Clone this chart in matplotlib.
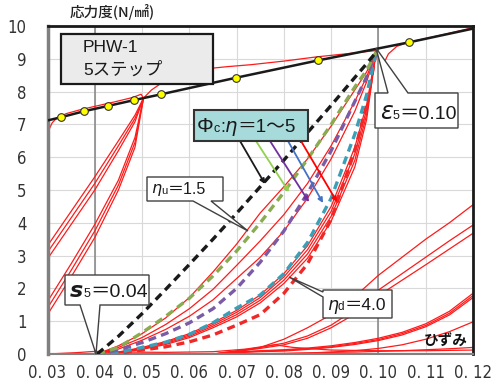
import matplotlib
matplotlib.use('Agg')
from matplotlib import pyplot as plt
from matplotlib import font_manager
from matplotlib.font_manager import FontProperties
from matplotlib.patches import Polygon, Rectangle
from matplotlib.transforms import Affine2D
from matplotlib.offsetbox import TextArea, HPacker, AnnotationBbox

# ---- data -------------------------------------------------------------
# skeleton line (black) and measured points on it
env_x = [0.03, 0.0329, 0.0377, 0.0427, 0.0483, 0.0541, 0.0698, 0.0872, 0.1064, 0.12]
env_y = [7.12, 7.22, 7.40, 7.56, 7.74, 7.92, 8.42, 8.95, 9.50, 9.92]
pts_x = [0.0329, 0.0377, 0.0427, 0.0483, 0.0541, 0.0698, 0.0872, 0.1064]
pts_y = [7.22, 7.40, 7.56, 7.74, 7.92, 8.42, 8.95, 9.50]

# step 5 : s5 = 0.04 -> eps5 = 0.10
x5 = [0.0405, 0.045, 0.05, 0.055, 0.06, 0.065, 0.07, 0.075, 0.08, 0.085, 0.09, 0.095, 0.0975, 0.0995]
eta1 = [0, 0.54, 1.23, 1.97, 2.73, 3.50, 4.29, 5.10, 5.91, 6.75, 7.58, 8.43, 8.85, 9.2]
eta15 = [0, 0.20, 0.65, 1.15, 1.70, 2.38, 3.14, 4.00, 4.93, 5.94, 7.00, 8.14, 8.65, 9.2]
eta2 = [0, 0.12, 0.35, 0.62, 0.95, 1.38, 2.00, 2.80, 3.75, 4.90, 6.20, 7.70, 8.45, 9.2]
eta3 = [0, 0.05, 0.20, 0.36, 0.60, 0.95, 1.40, 1.80, 2.45, 3.40, 4.75, 6.70, 7.90, 9.2]
eta5 = [0, 0.03, 0.12, 0.22, 0.37, 0.58, 0.88, 1.20, 1.85, 2.75, 4.10, 6.20, 7.60, 9.2]

test5 = [
    [0, 0.25, 0.62, 1.10, 1.72, 2.50, 3.35, 4.30, 5.10, 5.95, 6.95, 8.05, 8.60, 9.2],
    [0, 0.20, 0.50, 0.90, 1.38, 1.97, 2.70, 3.45, 4.25, 5.20, 6.35, 7.70, 8.45, 9.2],
    [0, 0.15, 0.42, 0.75, 1.15, 1.65, 2.30, 2.95, 3.75, 4.75, 5.95, 7.40, 8.30, 9.2],
    [0, 0.06, 0.20, 0.38, 0.62, 0.95, 1.33, 1.80, 2.45, 3.30, 4.50, 6.30, 7.60, 9.2],
    [0, 0.05, 0.18, 0.35, 0.58, 0.90, 1.27, 1.72, 2.35, 3.18, 4.35, 6.10, 7.45, 9.2],
    [0, 0.04, 0.16, 0.32, 0.54, 0.85, 1.20, 1.64, 2.25, 3.05, 4.20, 5.90, 7.30, 9.2],
    [0, 0.03, 0.14, 0.29, 0.50, 0.80, 1.13, 1.56, 2.15, 2.92, 4.05, 5.70, 7.15, 9.2],
]

# step 4 loops (left part)
x4 = [0.03, 0.035, 0.04, 0.045, 0.0485, 0.0503]
test4 = [
    [3.30, 4.35, 5.40, 6.50, 7.28, 7.8],
    [3.10, 4.15, 5.20, 6.35, 7.18, 7.8],
    [2.90, 3.95, 5.00, 6.20, 7.08, 7.8],
    [1.60, 2.75, 3.95, 5.30, 6.60, 7.8],
    [1.40, 2.55, 3.75, 5.15, 6.45, 7.8],
    [1.20, 2.35, 3.55, 5.00, 6.30, 7.8],
]
top4_x = [0.03, 0.0305, 0.031, 0.032, 0.034, 0.037, 0.04, 0.044, 0.048, 0.0498, 0.0503]
top4_y = [6.72, 6.90, 7.05, 7.20, 7.33, 7.45, 7.55, 7.68, 7.82, 7.92, 7.80]
up_x = [0.0503, 0.052, 0.0545, 0.0566, 0.06, 0.0625, 0.068, 0.073, 0.08, 0.087, 0.093, 0.0995]
up_y = [7.80, 8.05, 8.30, 8.48, 8.62, 8.68, 8.76, 8.82, 8.93, 9.06, 9.15, 9.25]
post_x = [0.0995, 0.1003, 0.1011, 0.1021, 0.1039, 0.1063, 0.11, 0.115, 0.12]
post_y = [9.22, 8.95, 8.85, 9.15, 9.38, 9.50, 9.62, 9.78, 9.95]

# step 6 reloading (bottom right)
x6 = [0.065, 0.07, 0.075, 0.08, 0.085, 0.09, 0.095, 0.10, 0.105, 0.11, 0.115, 0.12]
test6 = [
    [0, 0.06, 0.20, 0.45, 0.80, 1.20, 1.75, 2.40, 2.95, 3.50, 4.00, 4.55],
    [0, 0.10, 0.20, 0.33, 0.55, 0.88, 1.35, 1.95, 2.45, 2.95, 3.45, 3.93],
    [0, 0.08, 0.17, 0.28, 0.48, 0.80, 1.22, 1.78, 2.25, 2.72, 3.20, 3.68],
    [0, 0.06, 0.10, 0.13, 0.18, 0.25, 0.35, 0.48, 0.66, 0.92, 1.30, 1.85],
    [0, 0.05, 0.09, 0.11, 0.16, 0.22, 0.32, 0.44, 0.62, 0.87, 1.24, 1.78],
    [0, 0.04, 0.07, 0.09, 0.14, 0.20, 0.29, 0.41, 0.58, 0.83, 1.19, 1.72],
    [0, 0.00, 0.00, 0.01, 0.03, 0.06, 0.10, 0.17, 0.28, 0.45, 0.68, 0.98],
    [0, 0.00, 0.01, 0.02, 0.03, 0.05, 0.06, 0.08, 0.10, 0.13, 0.16, 0.20],
]
base_x = [0.03, 0.036, 0.04, 0.046, 0.055, 0.065, 0.072, 0.078, 0.082, 0.09, 0.10, 0.11, 0.12]
base_y = [0.0, 0.04, 0.08, 0.06, 0.05, 0.07, 0.15, 0.28, 0.20, 0.12, 0.10, 0.10, 0.12]

xticks = [0.03, 0.04, 0.05, 0.06, 0.07, 0.08, 0.09, 0.10, 0.11, 0.12]
xlabels = ['0. 03', '0. 04', '0. 05', '0. 06', '0. 07', '0. 08', '0. 09', '0. 10', '0. 11', '0. 12']
yticks = list(range(11))

# ---- fonts ------------------------------------------------------------
# narrow face for the axis numbers, if one is installed
tick_prop = None
for fam in ('Liberation Sans Narrow', 'Noto Sans', 'DejaVu Sans', 'Roboto', 'Open Sans'):
    for f in font_manager.fontManager.ttflist:
        if (f.name == fam and 'condensed' in str(f.stretch) and f.style == 'normal'
                and f.weight in (400, 'normal', 'regular')):
            tick_prop = FontProperties(fname=f.fname, size=12)
            break
    if tick_prop is not None:
        break
if tick_prop is None:
    tick_prop = FontProperties(family='Liberation Sans', size=10.5)
ytick_prop = tick_prop.copy()
ytick_prop.set_size(12)
jp = ['Liberation Sans', 'Noto Sans CJK JP']

fig = plt.figure(figsize=(4.92, 3.83), dpi=100)
ax = fig.add_axes([47.5 / 492, 29 / 383, 425.5 / 492, 328 / 383])
# pixel coordinates measured from the top-left corner of the image
px = Affine2D().scale(1 / 100., -1 / 100.).translate(0, 3.83) + fig.dpi_scale_trans

red = '#ff1a1a'
for yy in test4:
    ax.plot(x4, yy, color=red, lw=0.9, zorder=2)
ax.plot(top4_x, top4_y, color=red, lw=0.9, zorder=2)
ax.plot(up_x, up_y, color=red, lw=0.9, zorder=2)
ax.plot(post_x, post_y, color=red, lw=0.9, zorder=2)
for yy in test5:
    ax.plot(x5, yy, color=red, lw=0.9, zorder=2)
for yy in test6:
    ax.plot(x6, yy, color=red, lw=0.9, zorder=2)
ax.plot(base_x, base_y, color=red, lw=0.9, zorder=2)
ax.plot([0.03, 0.12], [0, 0], color=red, lw=2.2, zorder=2)

dash_cols = ['#1a1a1a', '#8aac50', '#7a5ba6', '#3a9fb7', '#f02828']
for yy, c in zip([eta5, eta3, eta2, eta15, eta1], dash_cols[::-1]):
    ax.plot(x5, yy, color=c, lw=2.4, dashes=(2.4, 1.6), zorder=3)

ax.plot(env_x, env_y, color='#1a1a1a', lw=1.8, zorder=4)
ax.plot(pts_x, pts_y, 'o', ms=5.5, mfc='#ffff00', mec='#333333', mew=0.8, zorder=5)

# s5 and eps5 markers
for xv in (0.04, 0.10):
    ax.axvline(xv, color='#8c8c8c', lw=1.2, zorder=1)

ax.set_xlim(0.03, 0.12)
ax.set_ylim(0, 10)
ax.set_xticks(xticks)
ax.set_xticklabels(xlabels)
ax.set_yticks(yticks)
ax.grid(True, color='#d9d9d9', lw=0.8, zorder=0)
ax.set_axisbelow(True)
ax.tick_params(length=0)
ax.tick_params(axis='y', pad=15)
ax.tick_params(axis='x', pad=7)
for lab in ax.get_xticklabels():
    lab.set_fontproperties(tick_prop)
    lab.set_color('#333333')
for lab in ax.get_yticklabels():
    lab.set_fontproperties(ytick_prop)
    lab.set_color('#333333')
for side in ('top', 'right'):
    ax.spines[side].set_color('#1a1a1a')
    ax.spines[side].set_linewidth(2)
ax.spines['left'].set_color('#808080')
ax.spines['left'].set_linewidth(2.5)
ax.spines['bottom'].set_color('#808080')
ax.spines['bottom'].set_linewidth(1.5)

fig.text(70, 12, '応力度(N/㎟)', transform=px, family=['Noto Sans CJK JP'],
         fontsize=10.5, fontweight='medium', va='center', color='#222222')
ax.text(424, 341, 'ひずみ', transform=px, family=['Noto Sans CJK JP'],
        fontsize=10.5, fontweight='bold', va='center', color='#111111', zorder=9)


def rich(x, y, parts, z=10):
    areas = [TextArea(t, textprops=dict(color='#1a1a1a', **kw)) for t, kw in parts]
    pack = HPacker(children=areas, align='baseline', pad=0, sep=0)
    ab = AnnotationBbox(pack, (x, y), xycoords=px, box_alignment=(0, 0.5),
                        frameon=False, zorder=z, annotation_clip=False)
    ax.add_artist(ab)


def callout(verts, fc='white', ec='#404040', lw=1.0, z=8):
    ax.add_patch(Polygon(verts, closed=True, transform=px, fc=fc, ec=ec, lw=lw,
                         zorder=z, clip_on=False))


# title box
ax.add_patch(Rectangle((61, 34), 152, 50, transform=px, fc='#ebebeb', ec='#1a1a1a',
                       lw=1.6, zorder=8, clip_on=False))
ax.text(83, 48, 'PHW-1', transform=px, family=jp, fontsize=12.5, va='center',
        color='#1a1a1a', zorder=9)
ax.text(83, 70, '5ステップ', transform=px, family=jp, fontsize=12.5, va='center',
        color='#1a1a1a', zorder=9)

# Phi_c box with arrows to the model curves
arrows = [((240, 141), (265, 184), '#1a1a1a'), ((256, 141), (289, 192), '#92d050'),
          ((270, 141), (309, 202), '#7030a0'), ((288, 141), (323, 203), '#4472c4'),
          ((301, 141), (337, 202), '#ff0000')]
for p0, p1, c in arrows:
    ax.annotate('', xy=p1, xytext=p0, xycoords=px, textcoords=px, zorder=7,
                arrowprops=dict(arrowstyle='-|>', color=c, lw=1.3,
                                mutation_scale=7, shrinkA=0, shrinkB=0))
ax.add_patch(Rectangle((194, 110), 114, 31, transform=px, fc='#a6dadb', ec='#333333',
                       lw=1.5, zorder=8, clip_on=False))
rich(197, 126, [('Φ', dict(fontsize=15, family=jp)), ('c', dict(fontsize=9, family=jp)),
                (':', dict(fontsize=13, family=jp)),
                ('η', dict(fontsize=14, family=['DejaVu Sans'], fontstyle='italic')),
                ('＝1〜5', dict(fontsize=13.5, family=jp))])

# eps5 callout
callout([(375, 93), (388, 93), (376, 48), (408, 93), (458, 93), (458, 128), (375, 128)])
rich(380, 112, [('ε', dict(fontsize=17, family=['DejaVu Sans'], fontstyle='italic')),
                ('5', dict(fontsize=9, family=jp)), ('＝0.10', dict(fontsize=14, family=jp))])

# eta_u callout
callout([(147, 177), (223, 177), (223, 201), (211, 201), (248, 231), (193, 201), (147, 201)])
rich(151, 189, [('η', dict(fontsize=11.5, family=['DejaVu Sans'], fontstyle='italic')),
                ('u', dict(fontsize=8, family=jp)), ('＝1.5', dict(fontsize=11.5, family=jp))])

# s5 callout
callout([(65, 275), (149, 275), (149, 305), (100, 305), (96, 354), (80, 305), (65, 305)])
rich(70, 291, [('s', dict(fontsize=16, family=['DejaVu Sans'], fontstyle='italic', fontweight='bold')),
               ('5', dict(fontsize=9, family=jp)), ('＝0.04', dict(fontsize=14, family=jp))])

# eta_d callout
callout([(323, 290), (392, 290), (392, 318), (323, 318), (323, 297), (289, 277), (323, 292)])
rich(327, 305, [('η', dict(fontsize=12.5, family=['DejaVu Sans'], fontstyle='italic')),
                ('d', dict(fontsize=8.5, family=jp)), ('＝4.0', dict(fontsize=12.5, family=jp))])

plt.savefig('out.png', dpi=100)
